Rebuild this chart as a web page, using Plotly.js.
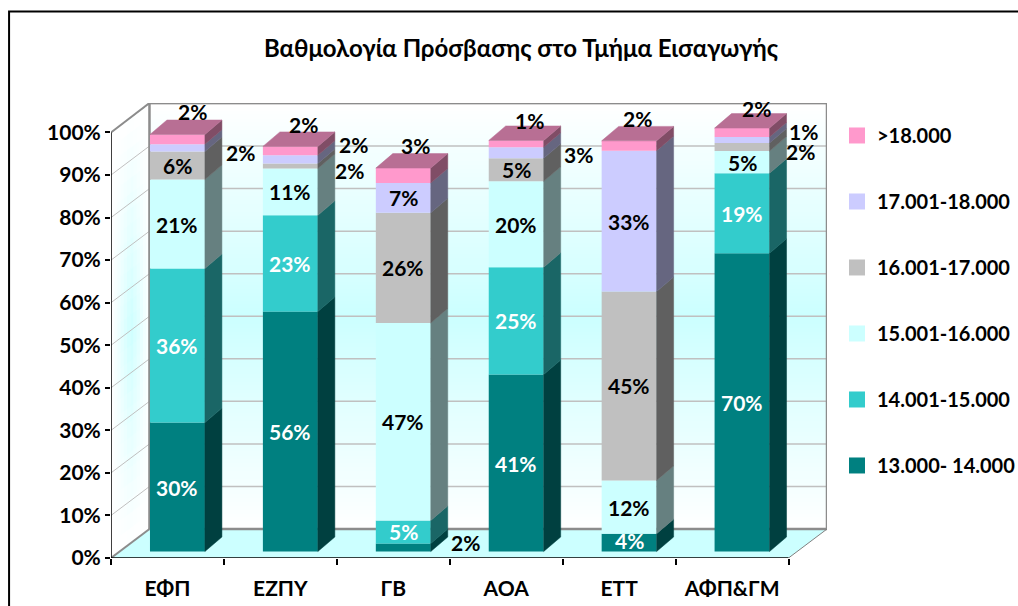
<!DOCTYPE html>
<html><head><meta charset="utf-8">
<script src="https://cdn.plot.ly/plotly-3.0.1.min.js"></script>
<style>html,body{margin:0;padding:0;background:#fff;overflow:hidden}#c{width:1018px;height:606px}</style>
</head><body><div id="c"></div>
<script>
// ---------- data ----------
const categories = ['ΕΦΠ','ΕΖΠΥ','ΓΒ','ΑΟΑ','ΕΤΤ','ΑΦΠ&ΓΜ'];
const seriesNames = ['13.000- 14.000','14.001-15.000','15.001-16.000','16.001-17.000','17.001-18.000','>18.000'];
// segment heights (percent)
const s13 = [30.3,56.4,1.9,41.6,4.2,70.1];
const s14 = [36.2,22.6,5.4,25.2,0,18.8];
const s15 = [20.9,11.0,46.4,20.2,12.5,5.2];
const s16 = [6.6,1.2,25.9,5.4,44.4,1.9];
const s17 = [1.7,1.9,7.0,2.6,33.1,1.4];
const s18 = [2.3,2.1,3.5,1.6,2.3,2.1];
// printed data labels
const l13 = [30,56,2,41,4,70];
const l14 = [36,23,5,25,null,19];
const l15 = [21,11,47,20,12,5];
const l16 = [6,2,26,5,45,2];
const l17 = [2,2,7,3,33,1];
const l18 = [2,2,3,1,2,2];
const yTicks = [0,10,20,30,40,50,60,70,80,90,100];
const titleText = 'Βαθμολογία Πρόσβασης στο Τμήμα Εισαγωγής';

// ---------- styling ----------
const values = [s13,s14,s15,s16,s17,s18];
const labels = [l13,l14,l15,l16,l17,l18];
const front = ['#008080','#33CCCC','#CCFFFF','#C0C0C0','#CCCCFF','#FF99CC'];
const side  = ['#004040','#1A6666','#668080','#606060','#666680','#804D66'];
const topFace = '#B86F94';
const labelColor = ['#fff','#fff','#000','#000','#000','#000'];
const FONT = 'Lato, "Noto Sans", sans-serif';
// label offsets in px, key "series,category"
const labelShift = {
 '5,0':[15.5,-28],'4,0':[63.5,4.5],
 '5,1':[13,-26.5],'4,1':[63,-15],'3,1':[59,4.5],
 '0,2':[62,-4.5],'5,2':[12,-30],
 '5,3':[13,-23.5],'4,3':[62,1.5],
 '5,4':[8,-27],'0,4':[0,-2],
 '5,5':[14.5,-24.5],'4,5':[61.5,-9],'3,5':[58.5,4]
};

// ---------- geometry ----------
const W=1018,H=606, L=110.5,R=827,T=103,B=558.5;
const PXX=113, PXY=4.26;
const xRange=[-0.5,(R-L)/PXX-0.5], yRange=[0,(B-T)/PXY];
const depthX=38.5/PXX, depthY=29/PXY;            // wall depth
const barDX=17/PXX, barDY=14.5/PXY;              // bar depth
const barShift=10/PXX, barBase=6.5/PXY, barW=55/PXX;
const paperX=p=>(p-L)/(R-L), paperY=p=>(B-p)/(B-T);

const traces=[]; const annotations=[]; const shapes=[];
const pos=categories.map((c,i)=>i+barShift);
const cum=categories.map(()=>barBase);

values.forEach((vals,s)=>{
  const bases=cum.slice();
  traces.push({type:'bar',x:pos,y:vals,base:bases,width:barW,name:seriesNames[s],
    marker:{color:front[s],line:{width:0}},showlegend:false,hoverinfo:'name+y'});
  const sx=[],sy=[];
  vals.forEach((v,i)=>{
    if(v>0){
      const x1=pos[i]+barW/2, y0=bases[i], y1=bases[i]+v;
      sx.push(x1,x1+barDX,x1+barDX,x1,x1,null);
      sy.push(y0,y0+barDY,y1+barDY,y1,y0,null);
      if(labels[s][i]!=null){
        const sh=labelShift[s+','+i]||[0,0];
        annotations.push({x:pos[i],y:y0+v/2,xref:'x',yref:'y',text:labels[s][i]+'%',showarrow:false,
          xshift:sh[0],yshift:-sh[1],xanchor:'center',yanchor:'middle',
          font:{family:FONT,size:21,color:sh[0]>0&&s<2?'#000':labelColor[s],weight:700}});
      }
    }
    cum[i]+=v;
  });
  traces.push({type:'scatter',mode:'lines',x:sx,y:sy,fill:'toself',fillcolor:side[s],
    line:{width:0.5,color:side[s]},showlegend:false,hoverinfo:'skip'});
});
// top faces
(function(){
  const tx=[],ty=[];
  categories.forEach((c,i)=>{
    const a=pos[i]-barW/2,b=pos[i]+barW/2,y=cum[i];
    tx.push(a,b,b+barDX,a+barDX,a,null);
    ty.push(y,y,y+barDY,y+barDY,y,null);
  });
  traces.push({type:'scatter',mode:'lines',x:tx,y:ty,fill:'toself',fillcolor:topFace,
    line:{width:0.5,color:topFace},showlegend:false,hoverinfo:'skip'});
})();
// legend entries, top entry first
for(let s=seriesNames.length-1;s>=0;s--){
  traces.push({type:'scatter',mode:'markers',x:[null],y:[null],name:seriesNames[s],legendgroup:'g'+s,
    marker:{symbol:'square',size:16,color:front[s]},showlegend:true,hoverinfo:'skip'});
}

// ---------- walls ----------
const x0=xRange[0], x1=x0+depthX, xEnd=xRange[1], xFront=categories.length-0.5;
const yBack=depthY, yTop=yRange[1];
function mix(t){ // white -> #CCFFFF
  const r=Math.round(255-51*t); return 'rgb('+r+',255,255)';
}
function vFade(u){ // u=0 bottom .. 1 top
  return Math.max(0,1-Math.abs(u-0.5)/0.5);
}
const bands=110;
for(let k=0;k<bands;k++){
  const u=(k+0.5)/bands;
  shapes.push({type:'rect',layer:'below',xref:'x',yref:'y',x0:x1,x1:xEnd,
    y0:yBack,y1:yTop-(yTop-yBack)*k/bands,
    fillcolor:mix(vFade(1-u)),line:{width:0}});
}
const cols=12,rows=28,wallH=yTop-yBack;
for(let c=0;c<cols;c++){
  const a=c/cols,b=(c+1.15)/cols,ctr=(c+0.5)/cols;
  const hf=Math.max(0,1-Math.abs(ctr-0.52)/0.5);
  for(let r=0;r<rows;r++){
    const u0=r/rows,u1=(r+1.1)/rows,uc=(r+0.5)/rows;
    const xa=x0+depthX*a,xb=x0+depthX*Math.min(b,1);
    const ya=depthY*a,yb=depthY*Math.min(b,1);
    const path='M'+xa+','+(ya+wallH*u0)+'L'+xb+','+(yb+wallH*u0)+'L'+xb+','+(yb+wallH*Math.min(u1,1))+'L'+xa+','+(ya+wallH*Math.min(u1,1))+'Z';
    shapes.push({type:'path',layer:'below',xref:'x',yref:'y',path:path,
      fillcolor:mix(hf*vFade(uc)),line:{width:0}});
  }
}
const GRID='#C0C0C0', FRAME='#8C8C8C';
shapes.push({type:'path',layer:'below',xref:'x',yref:'y',
  path:'M'+x0+',0L'+xFront+',0L'+xEnd+','+yBack+'L'+x1+','+yBack+'Z',fillcolor:'#CCFFFF',line:{width:0}});
yTicks.forEach(v=>{
  if(v>0){
    shapes.push({type:'line',layer:'below',xref:'x',yref:'y',x0:x1,x1:xEnd,y0:v+yBack,y1:v+yBack,line:{color:GRID,width:1.5}});
    shapes.push({type:'line',layer:'below',xref:'x',yref:'y',x0:x0,x1:x1,y0:v,y1:v+yBack,line:{color:GRID,width:1}});
  }
});
function seg(a,b,c,d,w,col){shapes.push({type:'line',layer:'below',xref:'x',yref:'y',x0:a,y0:b,x1:c,y1:d,line:{color:col||FRAME,width:w}});}
seg(x1,yBack,x1,yTop,2.5);
seg(x1,yTop,xEnd,yTop,2.5);
seg(xEnd,yBack,xEnd,yTop,2.5);
seg(x1,yBack,xEnd,yBack,2.5);
seg(x0,100,x1,yTop,2);
seg(x0,0,x1,yBack,2);
seg(xFront,0,xEnd,yBack,1,'#808080');
shapes.push({type:'line',layer:'above',xref:'x',yref:'y',x0:x0,x1:x0,y0:0,y1:100,line:{color:'#000',width:1.5}});
shapes.push({type:'line',layer:'above',xref:'x',yref:'y',x0:x0,x1:xFront,y0:0,y1:0,line:{color:'#000',width:1.5}});
shapes.push({type:'path',xref:'paper',yref:'paper',layer:'above',
  path:'M'+paperX(8.5)+','+paperY(H+5)+'L'+paperX(8.5)+','+paperY(11.5)+'L'+paperX(W+5)+','+paperY(11.5),
  line:{color:'#000',width:2},fillcolor:'rgba(0,0,0,0)'});

const layout={
  width:W,height:H,paper_bgcolor:'#fff',plot_bgcolor:'#fff',barmode:'overlay',
  margin:{l:L,r:W-R,t:T,b:H-B,autoexpand:false,pad:0},
  font:{family:FONT,color:'#000'},
  title:{text:titleText,x:521/W,xanchor:'center',y:1-49/H,yanchor:'middle',
    font:{family:FONT,size:24,color:'#000',weight:700}},
  xaxis:{type:'linear',range:xRange,tickmode:'array',tickvals:categories.map((c,i)=>i),ticktext:categories,
    ticks:'',showgrid:false,zeroline:false,showline:false,ticklabelstandoff:16,
    tickfont:{family:FONT,size:21,color:'#000',weight:700},
    minor:{tickmode:'array',tickvals:categories.map((c,i)=>i-0.5).concat([categories.length-0.5]),ticks:'outside',ticklen:6,tickcolor:'#000',tickwidth:1.5,showgrid:false}},
  yaxis:{range:yRange,tickmode:'array',tickvals:yTicks,ticktext:yTicks.map(v=>v+'%'),
    ticks:'outside',ticklen:5,tickcolor:'#000',tickwidth:1.5,showgrid:false,zeroline:false,showline:false,
    tickfont:{family:FONT,size:21,color:'#000',weight:700}},
  legend:{x:paperX(837),xanchor:'left',y:paperY(116),yanchor:'top',traceorder:'reversed+grouped',tracegroupgap:37,
    itemsizing:'trace',itemwidth:30,bgcolor:'rgba(0,0,0,0)',borderwidth:0,
    font:{family:FONT,size:20,color:'#000',weight:700}},
  annotations:annotations,shapes:shapes,showlegend:true
};
Plotly.newPlot('c',traces,layout,{displayModeBar:false,responsive:false});
</script></body></html>
